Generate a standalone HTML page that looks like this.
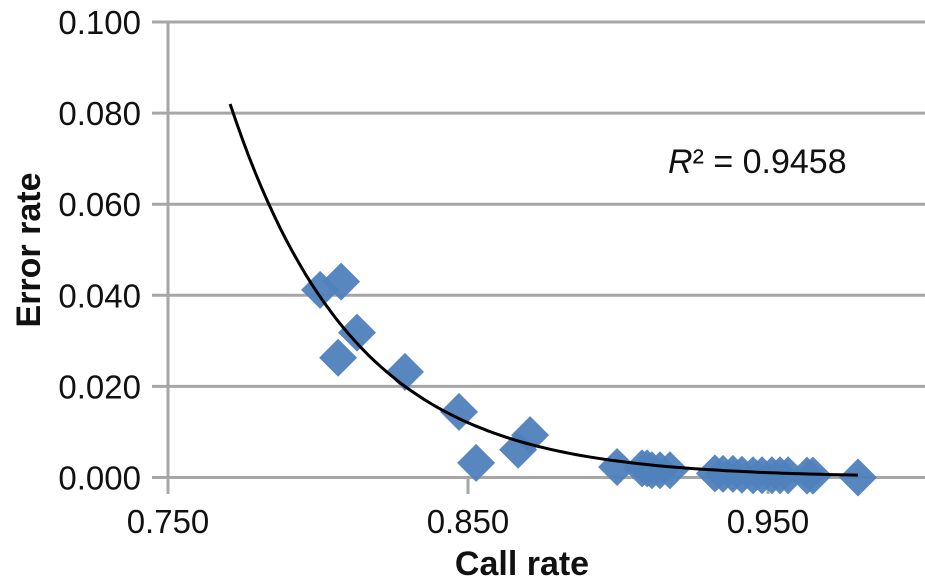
<!DOCTYPE html>
<html><head><meta charset="utf-8"><style>
html,body{margin:0;padding:0;background:#fff;}
svg{display:block;font-family:"Liberation Sans",Arial,sans-serif;}
</style></head><body>
<svg id="chart" width="925" height="584">
<g id="grid"></g>
<g id="ticks"></g>
<g id="pts"></g>
<path id="trend" fill="none" stroke="#000" stroke-width="3"/>
<text x="668" y="173" font-size="34" fill="#111"><tspan font-style="italic">R</tspan>² = 0.9458</text>
<text x="522" y="575" font-size="34" font-weight="bold" text-anchor="middle" fill="#111">Call rate</text>
<text transform="translate(40,250) rotate(-90)" font-size="34" font-weight="bold" text-anchor="middle" fill="#111">Error rate</text>
</svg>
<script>
const xTicks=[0.75,0.85,0.95];
const xTickLabels=["0.750","0.850","0.950"];
const yTicks=[0,0.02,0.04,0.06,0.08,0.1];
const yTickLabels=["0.000","0.020","0.040","0.060","0.080","0.100"];
const callRate=[0.8007,0.8077,0.8067,0.813,0.829,0.847,0.8527,0.8667,0.8707,0.8997,0.908,0.9097,0.9113,0.914,0.9173,0.9323,0.935,0.9383,0.9413,0.945,0.948,0.9513,0.954,0.9567,0.963,0.965,0.98];
const errorRate=[0.0412,0.043,0.0263,0.0318,0.0232,0.0144,0.0032,0.0061,0.0093,0.0023,0.0020,0.0020,0.0016,0.0016,0.0016,0.0009,0.0008,0.0008,0.0006,0.0005,0.0005,0.0005,0.0005,0.0005,0.0004,0.0004,0.0000];
const trendA=0.082, trendB=24.2, trendX0=0.7707, trendX1=0.98;
const NS="http://www.w3.org/2000/svg";
const X=v=>168+(v-0.75)*3000;
const Y=v=>477.5-v*4555;
function mk(tag,attrs,parent){const e=document.createElementNS(NS,tag);for(const k in attrs)e.setAttribute(k,attrs[k]);parent.appendChild(e);return e;}
const grid=document.getElementById('grid'),ticks=document.getElementById('ticks'),pts=document.getElementById('pts');
yTicks.forEach((t,i)=>{
 const l=mk('line',{x1:152,x2:925,y1:Y(t),y2:Y(t),stroke:'#a6a6a6','stroke-width':3},grid);
 
 
 const tx=mk('text',{x:141,y:Y(t)+12,'font-size':33,'text-anchor':'end',fill:'#111'},ticks);
 tx.textContent=yTickLabels[i];
 
 
});
const ax=mk('line',{x1:168,x2:168,y1:Y(0.1)-1,y2:494,stroke:'#a6a6a6','stroke-width':3},grid);


xTicks.forEach((t,i)=>{
 const l=mk('line',{x1:X(t),x2:X(t),y1:477,y2:494,stroke:'#a6a6a6','stroke-width':3},grid);
 
 
 const tx=mk('text',{x:X(t),y:533,'font-size':33,'text-anchor':'middle',fill:'#111'},ticks);
 tx.textContent=xTickLabels[i];
 
 
});
callRate.forEach((c,i)=>{
 const cx=X(c),cy=Y(errorRate[i]),r=19;
 const p=mk('polygon',{points:`${cx},${cy-r} ${cx+r},${cy} ${cx},${cy+r} ${cx-r},${cy}`,fill:'#4f81bd','fill-opacity':0.95},pts);
 
 
});
let d='';
for(let k=0;k<=100;k++){const x=trendX0+(trendX1-trendX0)*k/100;const y=trendA*Math.exp(-trendB*(x-trendX0));d+=(k?'L':'M')+X(x).toFixed(1)+','+Y(y).toFixed(1);}
document.getElementById('trend').setAttribute('d',d);
</script>
</body></html>
